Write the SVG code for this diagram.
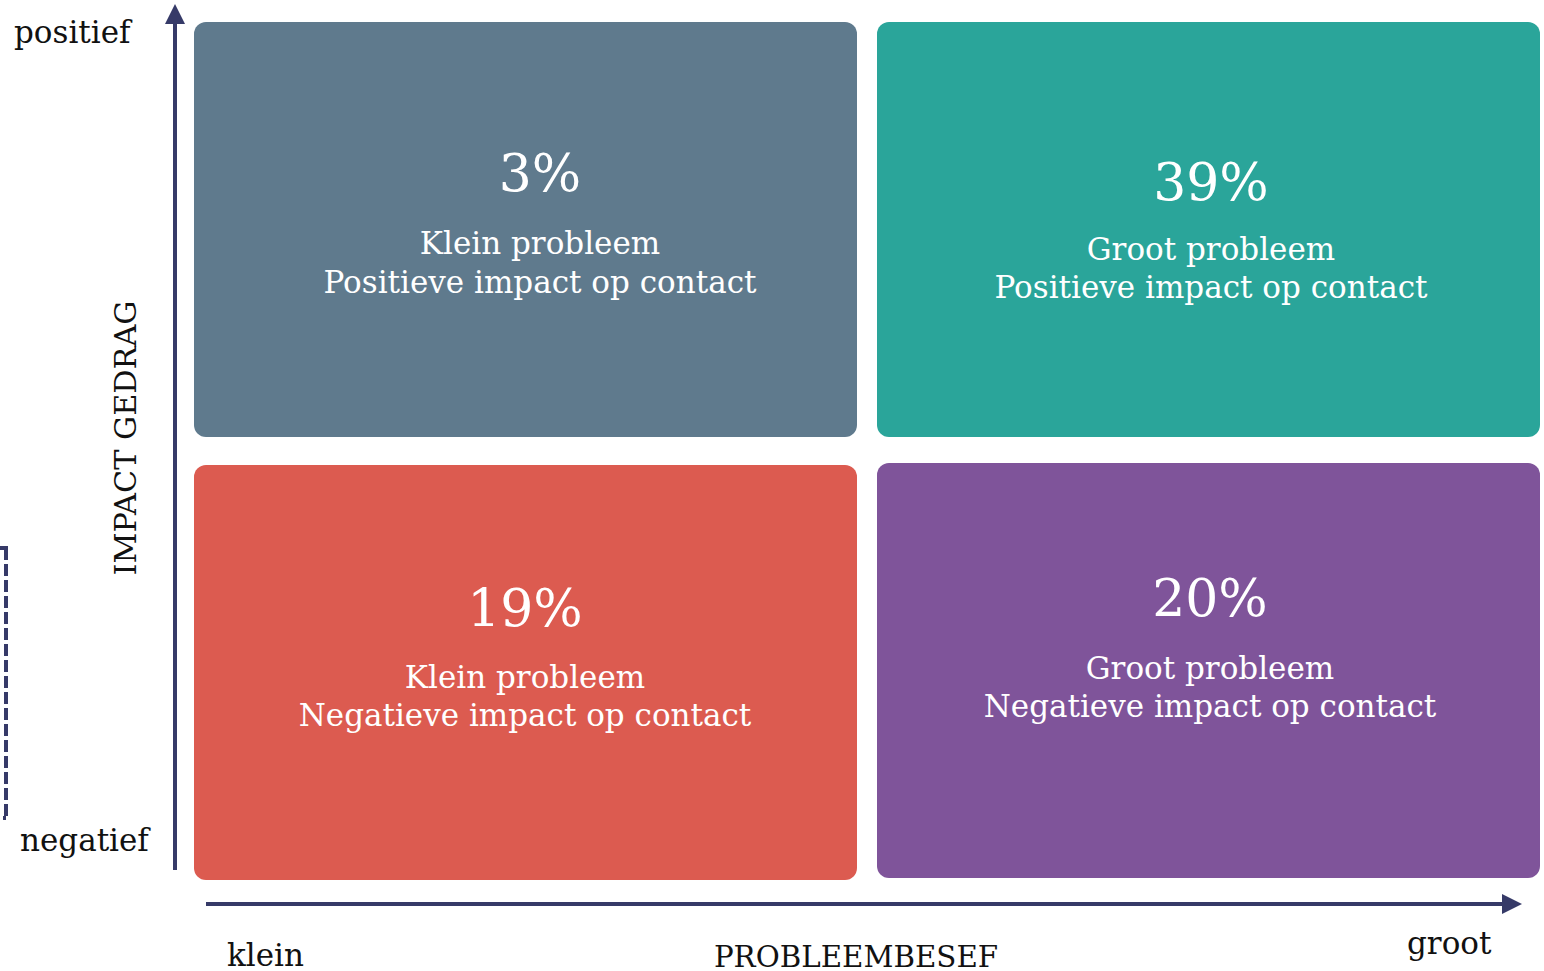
<svg xmlns="http://www.w3.org/2000/svg" width="1544" height="971" viewBox="0 0 1544 971">
<style>
text{font-family:"DejaVu Serif","Liberation Serif",serif;}
.pct{fill:#fff;font-size:52px;text-anchor:middle;}
.lbl{fill:#fff;font-size:31px;text-anchor:middle;}
.ax{fill:#111;font-size:31px;}
.axis{stroke:#363a68;stroke-width:4;fill:none;}
</style>
<defs>
<marker id="ah" markerWidth="5" markerHeight="5" refX="0" refY="2.5" orient="auto" markerUnits="strokeWidth">
<path d="M0,0 L5,2.5 L0,5 Z" fill="#363a68"/>
</marker>
</defs>
<g id="q-tl"><rect x="194" y="22" width="663" height="415" rx="12" fill="#5f7a8d"/>
<text class="pct" x="540" y="191">3%</text>
<text class="lbl" x="540" y="254">Klein probleem</text>
<text class="lbl" x="540" y="293">Positieve impact op contact</text></g>
<g id="q-tr"><rect x="877" y="22" width="663" height="415" rx="12" fill="#2aa59a"/>
<text class="pct" x="1211" y="200">39%</text>
<text class="lbl" x="1211" y="260">Groot probleem</text>
<text class="lbl" x="1211" y="298">Positieve impact op contact</text></g>
<g id="q-bl"><rect x="194" y="465" width="663" height="415" rx="12" fill="#dc5b50"/>
<text class="pct" x="525" y="626">19%</text>
<text class="lbl" x="525" y="688">Klein probleem</text>
<text class="lbl" x="525" y="726">Negatieve impact op contact</text></g>
<g id="q-br"><rect x="877" y="463" width="663" height="415" rx="12" fill="#7f549a"/>
<text class="pct" x="1210" y="616">20%</text>
<text class="lbl" x="1210" y="679">Groot probleem</text>
<text class="lbl" x="1210" y="717">Negatieve impact op contact</text></g>
<g id="connectors">
<line class="axis" x1="175" y1="870" x2="175" y2="24" marker-end="url(#ah)"/>
<line class="axis" x1="206" y1="904" x2="1502" y2="904" marker-end="url(#ah)"/>
<path d="M0,548 H8 M6,548 V818 M6,818 H3" stroke="#363a68" stroke-width="4" fill="none" stroke-dasharray="12 4"/>
</g>
<g id="labels">
<text class="ax" x="14" y="43">positief</text>
<text class="ax" x="20" y="851">negatief</text>
<text class="ax" x="227" y="966">klein</text>
<text class="ax" x="1407" y="954">groot</text>
<text class="ax" x="856" y="967" text-anchor="middle" style="font-size:29.3px">PROBLEEMBESEF</text>
<text class="ax" transform="translate(136,438) rotate(-90)" text-anchor="middle" style="font-size:30.3px">IMPACT GEDRAG</text>
</g>
</svg>
